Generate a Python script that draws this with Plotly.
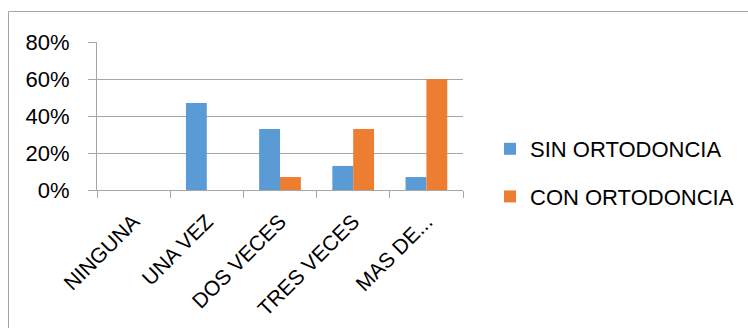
import plotly.graph_objects as go

categories = ["NINGUNA", "UNA VEZ", "DOS VECES", "TRES VECES", "MAS DE..."]
sin_ortodoncia = [0.0, 0.47, 0.33, 0.13, 0.07]
con_ortodoncia = [0.0, 0.0, 0.07, 0.33, 0.60]
y_ticks = [0, 0.2, 0.4, 0.6, 0.8]
y_labels = ["0%", "20%", "40%", "60%", "80%"]

FONT = "Liberation Sans"
GRAY = "#a6a6a6"

fig = go.Figure()
fig.add_trace(go.Bar(x=categories, y=sin_ortodoncia, name="SIN ORTODONCIA",
                     marker=dict(color="#5b9bd5", line=dict(width=0)), legendgroup="a"))
fig.add_trace(go.Bar(x=categories, y=con_ortodoncia, name="CON ORTODONCIA",
                     marker=dict(color="#ed7d31", line=dict(width=0)), legendgroup="b"))

W, H = 748, 328
L, R, T, B = 97, 285, 42, 138
pw, ph = W - L - R, H - T - B

fig.update_layout(
    width=W, height=H,
    margin=dict(l=L, r=R, t=T, b=B, pad=0, autoexpand=False),
    paper_bgcolor="white", plot_bgcolor="white",
    font=dict(family=FONT, size=22, color="#000000"),
    barmode="group", bargap=0.43, bargroupgap=0,
    showlegend=True,
    legend=dict(x=(490 - L) / pw, y=(190 - 128) / ph, xanchor="left", yanchor="top",
                font=dict(family=FONT, size=22, color="#000000"),
                tracegroupgap=16, itemwidth=30, bgcolor="rgba(0,0,0,0)"),
    xaxis=dict(type="category", tickangle=-45, showgrid=False, automargin=False,
               showline=True, linecolor=GRAY, linewidth=1,
               ticks="outside", tickson="boundaries", ticklen=7, tickcolor=GRAY,
               ticklabelstandoff=10,
               tickfont=dict(family=FONT, size=21, color="#000000")),
    yaxis=dict(range=[0, 0.8], tickvals=y_ticks, ticktext=y_labels, automargin=False,
               showgrid=True, gridcolor=GRAY, gridwidth=1,
               showline=True, linecolor=GRAY, linewidth=1,
               ticks="outside", ticklen=8, tickcolor=GRAY,
               ticklabelstandoff=14,
               zeroline=False,
               tickfont=dict(family=FONT, size=22, color="#000000")),
    shapes=[dict(type="rect", xref="paper", yref="paper",
                 x0=(8.5 - L) / pw, x1=2, y0=-2, y1=(190 - 11.5) / ph,
                 line=dict(color=GRAY, width=1), layer="below")],
)

fig.write_html("out.html")
